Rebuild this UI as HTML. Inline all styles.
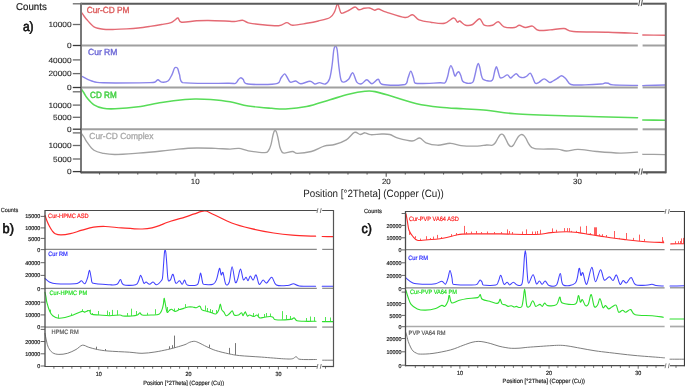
<!DOCTYPE html>
<html><head><meta charset="utf-8"><title>XRD patterns</title>
<style>
html,body{margin:0;padding:0;background:#fff;}
body{width:685px;height:386px;overflow:hidden;}
svg{display:block;font-family:"Liberation Sans",sans-serif;text-rendering:geometricPrecision;filter:blur(0.4px);}
</style></head>
<body>
<svg width="685" height="386" viewBox="0 0 685 386">
<rect width="685" height="386" fill="#fff"/>
<path d="M81.2 12.1 C81.67 12.75 83.03 14.72 84 16 C84.97 17.28 85.33 18 87 19.8 C88.67 21.6 91.28 25.23 94 26.8 C96.72 28.37 99.8 28.77 103.3 29.2 C106.8 29.63 111.1 29.45 115 29.4 C118.9 29.35 122.82 29.13 126.7 28.9 C130.58 28.67 134.42 28.42 138.3 28 C142.18 27.58 146.12 26.98 150 26.4 C153.88 25.82 158.1 25.13 161.6 24.5 C165.1 23.87 168.77 23.35 171 22.6 C173.23 21.85 173.83 20.77 175 20 C176.17 19.23 176.92 17.63 178 18 C179.08 18.37 178.4 21.73 181.5 22.2 C184.6 22.67 192.13 21.08 196.6 20.8 C201.07 20.52 203.57 20.47 208.3 20.5 C213.03 20.53 220.67 20.83 225 21 C229.33 21.17 231.38 21.62 234.3 21.5 C237.22 21.38 240.17 20.07 242.5 20.3 C244.83 20.53 245.38 22.2 248.3 22.9 C251.22 23.6 254.93 24.03 260 24.5 C265.07 24.97 274.23 26.02 278.7 25.7 C283.17 25.38 284.48 22.68 286.8 22.6 C289.12 22.52 289.3 25.08 292.6 25.2 C295.9 25.32 302.32 24 306.6 23.3 C310.88 22.6 314.4 21.97 318.3 21 C322.2 20.03 327.28 19.05 330 17.5 C332.72 15.95 333.37 13.98 334.6 11.7 C335.83 9.42 336.62 4.38 337.4 3.8 C338.18 3.22 338.6 6.62 339.3 8.2 C340 9.78 340.05 12.92 341.6 13.3 C343.15 13.68 346.37 11.55 348.6 10.5 C350.83 9.45 353.27 7.12 355 7 C356.73 6.88 357.5 9.58 359 9.8 C360.5 10.02 362.23 8.6 364 8.3 C365.77 8 367.82 7.68 369.6 8 C371.38 8.32 373.23 10.03 374.7 10.2 C376.17 10.37 376.47 8.68 378.4 9 C380.33 9.32 381.87 10.68 386.3 12.1 C390.73 13.52 400.63 17.07 405 17.5 C409.37 17.93 410.17 14.32 412.5 14.7 C414.83 15.08 415.98 18.55 419 19.8 C422.02 21.05 426.33 21.62 430.6 22.2 C434.87 22.78 440.78 24 444.6 23.3 C448.42 22.6 451.35 18.18 453.5 18 C455.65 17.82 456.45 21.7 457.5 22.2 C458.55 22.7 458.45 20.5 459.8 21 C461.15 21.5 463.47 24.62 465.6 25.2 C467.73 25.78 470.27 25.58 472.6 24.5 C474.93 23.42 477.65 18.58 479.6 18.7 C481.55 18.82 482.15 24.12 484.3 25.2 C486.45 26.28 490.17 25.78 492.5 25.2 C494.83 24.62 496.38 21.43 498.3 21.7 C500.22 21.97 501.28 25.83 504 26.8 C506.72 27.77 512.07 27.77 514.6 27.5 C517.13 27.23 517.38 25.2 519.2 25.2 C521.02 25.2 523.28 27.35 525.5 27.5 C527.72 27.65 530.37 25.63 532.5 26.1 C534.63 26.57 535.38 29.67 538.3 30.3 C541.22 30.93 545.72 30.2 550 29.9 C554.28 29.6 560.12 28.23 564 28.5 C567.88 28.77 565.92 30.88 573.3 31.5 C580.68 32.12 597.6 31.88 608.3 32.2 C619 32.52 632.63 33.2 637.5 33.4" fill="none" stroke="#e46a74" stroke-width="1.4" stroke-linejoin="round" stroke-linecap="round"/>
<path d="M642.8 35 C646.5 35.03 661.3 35.17 665 35.2" fill="none" stroke="#e46a74" stroke-width="1.4" stroke-linejoin="round" stroke-linecap="round"/>
<path d="M81 75.8 C82.78 76.67 88.03 79.83 91.7 81 C95.37 82.17 93.28 82.53 103 82.8 C112.72 83.07 141.33 82.73 150 82.6 C155 82.47 153.67 82.47 155 82 C156.33 81.53 156.9 79.78 158 79.8 C159.1 79.82 159.93 81.9 161.6 82.1 C163.27 82.3 166.27 82.25 168 81 C169.73 79.75 170.95 76.68 172 74.6 C173.05 72.52 173.63 69.7 174.3 68.5 C174.97 67.3 175.43 67.4 176 67.4 C176.57 67.4 177.12 67.3 177.7 68.5 C178.28 69.7 178.68 72.25 179.5 74.6 C180.32 76.95 179.5 81.15 182.6 82.6 C190.85 84.05 220.18 83.18 229 83.3 C235.5 83.42 233.92 83.93 235.5 83.3 C237.08 82.67 237.6 80.43 238.5 79.5 C239.4 78.57 240.1 77.7 240.9 77.7 C241.7 77.7 242.45 78.53 243.3 79.5 C244.15 80.47 243.3 82.67 246 83.5 C249.17 84.33 257.05 84.53 262.3 84.5 C267.55 84.47 274.38 84.38 277.5 83.3 C280.62 82.22 279.83 79.57 281 78 C282.17 76.43 283.5 74.07 284.5 73.9 C285.5 73.73 286.03 75.63 287 77 C287.97 78.37 288.85 81.43 290.3 82.1 C291.75 82.77 293.95 80.72 295.7 81 C297.45 81.28 298.42 83.77 300.8 83.8 C303.18 83.83 307.67 81.17 310 81.2 C312.33 81.23 313.22 83.77 314.8 84 C316.38 84.23 317.75 82.6 319.5 82.6 C321.25 82.6 323.63 84.6 325.3 84 C326.97 83.4 328.38 82 329.5 79 C330.62 76 331.28 70.83 332 66 C332.72 61.17 333.22 53.28 333.8 50 C334.38 46.72 334.93 46.3 335.5 46.3 C336.07 46.3 336.65 46.72 337.2 50 C337.75 53.28 338.17 61 338.8 66 C339.43 71 340.13 77.32 341 80 C341.87 82.68 342.73 82.22 344 82.1 C345.27 81.98 347.13 80.85 348.6 79.3 C350.07 77.75 351.43 72.33 352.8 72.8 C354.17 73.27 355.35 80.27 356.8 82.1 C358.25 83.93 359.83 84.18 361.5 83.8 C363.17 83.42 365.05 79.8 366.8 79.8 C368.55 79.8 370.1 83.88 372 83.8 C373.9 83.72 376.4 79.18 378.2 79.3 C380 79.42 378.33 83.63 382.8 84.5 C387.27 85.37 400.8 85.58 405 84.5 C408 83.42 407.03 80.23 408 78 C408.97 75.77 409.88 71.1 410.8 71.1 C411.72 71.1 412.72 75.97 413.5 78 C414.28 80.03 413.5 82.5 415.5 83.3 C419.92 84.1 435.08 82.88 440 82.8 C444.92 82.72 443.75 83.77 445 82.8 C446.25 81.83 446.78 79.3 447.5 77 C448.22 74.7 448.73 70.9 449.3 69 C449.87 67.1 450.33 65.6 450.9 65.6 C451.47 65.6 452.03 67.27 452.7 69 C453.37 70.73 454.18 75.33 454.9 76 C455.62 76.67 456.33 73.68 457 73 C457.67 72.32 458.27 71.48 458.9 71.9 C459.53 72.32 460.2 73.98 460.8 75.5 C461.4 77.02 461.63 79.75 462.5 81 C463.37 82.25 464.75 82.62 466 83 C467.25 83.38 468.83 83.47 470 83.3 C471.17 83.13 472.17 83.38 473 82 C473.83 80.62 474.37 77.5 475 75 C475.63 72.5 476.27 68.92 476.8 67 C477.33 65.08 477.72 63.5 478.2 63.5 C478.68 63.5 479.18 65.08 479.7 67 C480.22 68.92 480.75 72.95 481.3 75 C481.85 77.05 482.05 78.35 483 79.3 C483.95 80.25 485.67 80.42 487 80.7 C488.33 80.98 490 81.28 491 81 C492 80.72 492.37 80.67 493 79 C493.63 77.33 494.23 73.05 494.8 71 C495.37 68.95 495.87 66.7 496.4 66.7 C496.93 66.7 497.4 69.2 498 71 C498.6 72.8 499.17 76.45 500 77.5 C500.83 78.55 501.77 77.73 503 77.3 C504.23 76.87 506.15 74.78 507.4 74.9 C508.65 75.02 509.57 77.82 510.5 78 C511.43 78.18 512.05 76.72 513 76 C513.95 75.28 515.2 73.62 516.2 73.7 C517.2 73.78 518.13 75.87 519 76.5 C519.87 77.13 520.57 77.33 521.4 77.5 C522.23 77.67 523.07 77.75 524 77.5 C524.93 77.25 525.97 76.73 527 76 C528.03 75.27 529.28 72.93 530.2 73.1 C531.12 73.27 531.63 75.3 532.5 77 C533.37 78.7 534.32 82.42 535.4 83.3 C536.48 84.18 537.53 83.03 539 82.3 C540.47 81.57 542.45 78.88 544.2 78.9 C545.95 78.92 548.03 82.05 549.5 82.4 C550.97 82.75 551.7 81.67 553 81 C554.3 80.33 555.85 79.27 557.3 78.4 C558.75 77.53 560.25 75.7 561.7 75.8 C563.15 75.9 564.45 77.55 566 79 C567.55 80.45 567.83 83.52 571 84.5 C574.17 85.48 580 84.98 585 84.9 C590 84.82 597.67 84.32 601 84 C604.33 83.68 603.78 83.12 605 83 C606.22 82.88 606.97 82.98 608.3 83.3 C609.63 83.62 608.3 84.55 613 84.9 C617.87 85.25 633.42 85.32 637.5 85.4" fill="none" stroke="#8a84ea" stroke-width="1.4" stroke-linejoin="round" stroke-linecap="round"/>
<path d="M642.8 85.6 C643.33 85.57 642.8 85.5 646 85.4 C649.7 85.3 661.83 85.07 665 85" fill="none" stroke="#8a84ea" stroke-width="1.4" stroke-linejoin="round" stroke-linecap="round"/>
<path d="M81 88.5 C81.5 89.25 83 91.45 84 93 C85 94.55 85.33 95.83 87 97.8 C88.67 99.77 91.28 103.05 94 104.8 C96.72 106.55 99.8 107.63 103.3 108.3 C106.8 108.97 109.17 109.07 115 108.8 C120.83 108.53 130.53 107.75 138.3 106.7 C146.07 105.65 153.82 103.7 161.6 102.5 C169.38 101.3 179.17 100.08 185 99.5 C190.83 98.92 192.33 99 196.6 99 C200.87 99 205.03 99.03 210.6 99.5 C216.17 99.97 223.72 100.72 230 101.8 C236.28 102.88 241.35 104.92 248.3 106 C255.25 107.08 265.48 107.8 271.7 108.3 C277.92 108.8 279.78 109.3 285.6 109 C291.42 108.7 299.2 108.05 306.6 106.5 C314 104.95 323 101.73 330 99.7 C337 97.67 342.77 95.7 348.6 94.3 C354.43 92.9 360.6 91.75 365 91.3 C369.4 90.85 370.28 90.7 375 91.6 C379.72 92.5 386.35 94.68 393.3 96.7 C400.25 98.72 408.92 101.95 416.7 103.7 C424.48 105.45 432.23 106.35 440 107.2 C447.77 108.05 455.53 108.3 463.3 108.8 C471.07 109.3 477.98 109.38 486.6 110.2 C495.22 111.02 500.55 112.73 515 113.7 C529.45 114.67 552.88 115.33 573.3 116 C593.72 116.67 626.8 117.42 637.5 117.7" fill="none" stroke="#58dc58" stroke-width="1.6" stroke-linejoin="round" stroke-linecap="round"/>
<path d="M642.8 120 C646.5 120.05 661.3 120.25 665 120.3" fill="none" stroke="#58dc58" stroke-width="1.6" stroke-linejoin="round" stroke-linecap="round"/>
<path d="M81 132.8 C81.5 133.5 83 135.45 84 137 C85 138.55 85.33 139.88 87 142.1 C88.67 144.32 91.28 148.43 94 150.3 C96.72 152.17 99.8 152.6 103.3 153.3 C106.8 154 109.17 154.53 115 154.5 C120.83 154.47 130.53 153.68 138.3 153.1 C146.07 152.52 154.98 151.67 161.6 151 C168.22 150.33 172.17 149.6 178 149.1 C183.83 148.6 190.38 148.12 196.6 148 C202.82 147.88 209.73 148.22 215.3 148.4 C220.87 148.58 226.05 149.1 230 149.1 C233.95 149.1 235.95 148.12 239 148.4 C242.05 148.68 244.02 150.1 248.3 150.8 C252.58 151.5 261.33 152.65 264.7 152.6 C268.07 152.55 267.45 151.83 268.5 150.5 C269.55 149.17 270.25 147.18 271 144.6 C271.75 142.02 272.42 137.3 273 135 C273.58 132.7 273.95 131.35 274.5 130.8 C275.05 130.25 275.72 130.5 276.3 131.7 C276.88 132.9 277.42 135.45 278 138 C278.58 140.55 279.13 144.67 279.8 147 C280.47 149.33 281.22 150.98 282 152 C282.78 153.02 282.73 153.18 284.5 153.1 C286.27 153.02 290.47 151.47 292.6 151.5 C294.73 151.53 294.18 153.3 297.3 153.3 C300.42 153.3 306.83 152.7 311.3 151.5 C315.77 150.3 320.22 147.27 324.1 146.1 C327.98 144.93 330.9 145.55 334.6 144.5 C338.3 143.45 342.98 141.82 346.3 139.8 C349.62 137.78 352.17 133.28 354.5 132.4 C356.83 131.52 358.55 134.43 360.3 134.5 C362.05 134.57 363.25 132.77 365 132.8 C366.75 132.83 368.02 134.5 370.8 134.7 C373.58 134.9 378.53 134.03 381.7 134 C384.87 133.97 387.08 133.8 389.8 134.5 C392.52 135.2 394.3 137.12 398 138.2 C401.7 139.28 408.38 141.03 412 141 C415.62 140.97 417.37 137.7 419.7 138 C422.03 138.3 423.02 141.6 426 142.8 C428.98 144 433.52 145.12 437.6 145.2 C441.68 145.28 446.6 143.23 450.5 143.3 C454.4 143.37 456.53 145.13 461 145.6 C465.47 146.07 473.03 146.2 477.3 146.1 C481.57 146 484.07 145.15 486.6 145 C489.13 144.85 491.02 145.62 492.5 145.2 C493.98 144.78 494.58 143.7 495.5 142.5 C496.42 141.3 497.22 139.28 498 138 C498.78 136.72 499.53 135.43 500.2 134.8 C500.87 134.17 501.4 134.08 502 134.2 C502.6 134.32 503.13 134.62 503.8 135.5 C504.47 136.38 505.22 138 506 139.5 C506.78 141 507.67 143.32 508.5 144.5 C509.33 145.68 510.17 146.52 511 146.6 C511.83 146.68 512.67 146.02 513.5 145 C514.33 143.98 515.17 141.92 516 140.5 C516.83 139.08 517.67 137.48 518.5 136.5 C519.33 135.52 520.17 134.82 521 134.6 C521.83 134.38 522.67 134.55 523.5 135.2 C524.33 135.85 525.08 137 526 138.5 C526.92 140 527.53 142.5 529 144.2 C530.47 145.9 530.13 147.88 534.8 148.7 C539.47 149.52 551.75 148.72 557 149.1 C562.25 149.48 562.8 150.95 566.3 151 C569.8 151.05 572.95 149.32 578 149.4 C583.05 149.48 589.6 150.88 596.6 151.5 C603.6 152.12 613.18 152.98 620 153.1 C626.82 153.22 634.58 152.35 637.5 152.2" fill="none" stroke="#a2a2a2" stroke-width="1.35" stroke-linejoin="round" stroke-linecap="round"/>
<path d="M642.8 154.3 C646.5 154.35 661.3 154.55 665 154.6" fill="none" stroke="#a2a2a2" stroke-width="1.35" stroke-linejoin="round" stroke-linecap="round"/>
<line x1="81" y1="45.5" x2="637.8" y2="45.5" stroke="#a0a0a0" stroke-width="2.0"/>
<line x1="642.6" y1="45.5" x2="665.8" y2="45.5" stroke="#a0a0a0" stroke-width="2.0"/>
<line x1="81" y1="87.4" x2="637.8" y2="87.4" stroke="#a0a0a0" stroke-width="2.0"/>
<line x1="642.6" y1="87.4" x2="665.8" y2="87.4" stroke="#a0a0a0" stroke-width="2.0"/>
<line x1="81" y1="129.3" x2="637.8" y2="129.3" stroke="#a0a0a0" stroke-width="2.0"/>
<line x1="642.6" y1="129.3" x2="665.8" y2="129.3" stroke="#a0a0a0" stroke-width="2.0"/>
<line x1="81" y1="3.7" x2="637.8" y2="3.7" stroke="#5a5a5a" stroke-width="2.0"/>
<line x1="642.6" y1="3.7" x2="665.8" y2="3.7" stroke="#5a5a5a" stroke-width="2.0"/>
<line x1="81" y1="2.7" x2="81" y2="173.3" stroke="#787878" stroke-width="2.0"/>
<line x1="665.8" y1="2.7" x2="665.8" y2="173.3" stroke="#6a6a6a" stroke-width="2.0"/>
<line x1="81" y1="172.3" x2="637.8" y2="172.3" stroke="#555" stroke-width="2.2"/>
<line x1="642.6" y1="172.3" x2="665.8" y2="172.3" stroke="#555" stroke-width="2.2"/>
<path d="M638.6 6.1 L639.8 -0.1 M641.2 6.1 L642.4 -0.1 " stroke="#444" stroke-width="0.9" fill="none"/>
<path d="M638.6 174.7 L639.8 168.5 M641.2 174.7 L642.4 168.5 " stroke="#444" stroke-width="0.9" fill="none"/>
<line x1="72.8" y1="3.8" x2="81" y2="3.8" stroke="#6a6a6a" stroke-width="1.3"/>
<line x1="72.8" y1="24.5" x2="81" y2="24.5" stroke="#6a6a6a" stroke-width="1.3"/>
<text x="48.5" y="27" font-size="7.6" fill="#2a2a2a" font-weight="normal" stroke="#2a2a2a" stroke-width="0.12" textLength="23.1" lengthAdjust="spacingAndGlyphs">10000</text>
<line x1="72.8" y1="45.5" x2="81" y2="45.5" stroke="#3a3a3a" stroke-width="1.3"/>
<text x="66.98" y="48" font-size="7.6" fill="#2a2a2a" font-weight="normal" stroke="#2a2a2a" stroke-width="0.12" textLength="4.62" lengthAdjust="spacingAndGlyphs">0</text>
<line x1="72.8" y1="59.9" x2="81" y2="59.9" stroke="#6a6a6a" stroke-width="1.3"/>
<text x="48.5" y="63" font-size="7.6" fill="#2a2a2a" font-weight="normal" stroke="#2a2a2a" stroke-width="0.12" textLength="23.1" lengthAdjust="spacingAndGlyphs">40000</text>
<line x1="72.8" y1="73.6" x2="81" y2="73.6" stroke="#6a6a6a" stroke-width="1.3"/>
<text x="48.5" y="76" font-size="7.6" fill="#2a2a2a" font-weight="normal" stroke="#2a2a2a" stroke-width="0.12" textLength="23.1" lengthAdjust="spacingAndGlyphs">20000</text>
<line x1="72.8" y1="87.5" x2="81" y2="87.5" stroke="#3a3a3a" stroke-width="1.3"/>
<text x="66.98" y="90" font-size="7.6" fill="#2a2a2a" font-weight="normal" stroke="#2a2a2a" stroke-width="0.12" textLength="4.62" lengthAdjust="spacingAndGlyphs">0</text>
<line x1="72.8" y1="91.8" x2="81" y2="91.8" stroke="#6a6a6a" stroke-width="1.3"/>
<line x1="72.8" y1="105.1" x2="81" y2="105.1" stroke="#6a6a6a" stroke-width="1.3"/>
<text x="48.5" y="108" font-size="7.6" fill="#2a2a2a" font-weight="normal" stroke="#2a2a2a" stroke-width="0.12" textLength="23.1" lengthAdjust="spacingAndGlyphs">10000</text>
<line x1="72.8" y1="117.3" x2="81" y2="117.3" stroke="#6a6a6a" stroke-width="1.3"/>
<text x="53.12" y="120" font-size="7.6" fill="#2a2a2a" font-weight="normal" stroke="#2a2a2a" stroke-width="0.12" textLength="18.48" lengthAdjust="spacingAndGlyphs">5000</text>
<line x1="72.8" y1="129.2" x2="81" y2="129.2" stroke="#3a3a3a" stroke-width="1.3"/>
<text x="66.98" y="132" font-size="7.6" fill="#2a2a2a" font-weight="normal" stroke="#2a2a2a" stroke-width="0.12" textLength="4.62" lengthAdjust="spacingAndGlyphs">0</text>
<line x1="72.8" y1="132.9" x2="81" y2="132.9" stroke="#6a6a6a" stroke-width="1.3"/>
<line x1="72.8" y1="145.5" x2="81" y2="145.5" stroke="#6a6a6a" stroke-width="1.3"/>
<text x="48.5" y="148" font-size="7.6" fill="#2a2a2a" font-weight="normal" stroke="#2a2a2a" stroke-width="0.12" textLength="23.1" lengthAdjust="spacingAndGlyphs">10000</text>
<line x1="72.8" y1="159" x2="81" y2="159" stroke="#6a6a6a" stroke-width="1.3"/>
<text x="53.12" y="162" font-size="7.6" fill="#2a2a2a" font-weight="normal" stroke="#2a2a2a" stroke-width="0.12" textLength="18.48" lengthAdjust="spacingAndGlyphs">5000</text>
<line x1="72.8" y1="171.6" x2="81" y2="171.6" stroke="#3a3a3a" stroke-width="1.3"/>
<text x="66.98" y="174" font-size="7.6" fill="#2a2a2a" font-weight="normal" stroke="#2a2a2a" stroke-width="0.12" textLength="4.62" lengthAdjust="spacingAndGlyphs">0</text>
<line x1="99.55" y1="172.3" x2="99.55" y2="174.5" stroke="#555" stroke-width="1.1"/>
<line x1="118.66" y1="172.3" x2="118.66" y2="174.5" stroke="#555" stroke-width="1.1"/>
<line x1="137.77" y1="172.3" x2="137.77" y2="174.5" stroke="#555" stroke-width="1.1"/>
<line x1="156.88" y1="172.3" x2="156.88" y2="174.5" stroke="#555" stroke-width="1.1"/>
<line x1="175.99" y1="172.3" x2="175.99" y2="174.5" stroke="#555" stroke-width="1.1"/>
<line x1="195.1" y1="172.3" x2="195.1" y2="176.7" stroke="#555" stroke-width="1.1"/>
<line x1="214.21" y1="172.3" x2="214.21" y2="174.5" stroke="#555" stroke-width="1.1"/>
<line x1="233.32" y1="172.3" x2="233.32" y2="174.5" stroke="#555" stroke-width="1.1"/>
<line x1="252.43" y1="172.3" x2="252.43" y2="174.5" stroke="#555" stroke-width="1.1"/>
<line x1="271.54" y1="172.3" x2="271.54" y2="174.5" stroke="#555" stroke-width="1.1"/>
<line x1="290.65" y1="172.3" x2="290.65" y2="174.5" stroke="#555" stroke-width="1.1"/>
<line x1="309.76" y1="172.3" x2="309.76" y2="174.5" stroke="#555" stroke-width="1.1"/>
<line x1="328.87" y1="172.3" x2="328.87" y2="174.5" stroke="#555" stroke-width="1.1"/>
<line x1="347.98" y1="172.3" x2="347.98" y2="174.5" stroke="#555" stroke-width="1.1"/>
<line x1="367.09" y1="172.3" x2="367.09" y2="174.5" stroke="#555" stroke-width="1.1"/>
<line x1="386.2" y1="172.3" x2="386.2" y2="176.7" stroke="#555" stroke-width="1.1"/>
<line x1="405.31" y1="172.3" x2="405.31" y2="174.5" stroke="#555" stroke-width="1.1"/>
<line x1="424.42" y1="172.3" x2="424.42" y2="174.5" stroke="#555" stroke-width="1.1"/>
<line x1="443.53" y1="172.3" x2="443.53" y2="174.5" stroke="#555" stroke-width="1.1"/>
<line x1="462.64" y1="172.3" x2="462.64" y2="174.5" stroke="#555" stroke-width="1.1"/>
<line x1="481.75" y1="172.3" x2="481.75" y2="174.5" stroke="#555" stroke-width="1.1"/>
<line x1="500.86" y1="172.3" x2="500.86" y2="174.5" stroke="#555" stroke-width="1.1"/>
<line x1="519.97" y1="172.3" x2="519.97" y2="174.5" stroke="#555" stroke-width="1.1"/>
<line x1="539.08" y1="172.3" x2="539.08" y2="174.5" stroke="#555" stroke-width="1.1"/>
<line x1="558.19" y1="172.3" x2="558.19" y2="174.5" stroke="#555" stroke-width="1.1"/>
<line x1="577.3" y1="172.3" x2="577.3" y2="176.7" stroke="#555" stroke-width="1.1"/>
<line x1="596.41" y1="172.3" x2="596.41" y2="174.5" stroke="#555" stroke-width="1.1"/>
<line x1="615.52" y1="172.3" x2="615.52" y2="174.5" stroke="#555" stroke-width="1.1"/>
<line x1="634.63" y1="172.3" x2="634.63" y2="174.5" stroke="#555" stroke-width="1.1"/>
<line x1="646.9" y1="172.3" x2="646.9" y2="174.5" stroke="#555" stroke-width="1.1"/>
<text x="190.8" y="184" font-size="7.6" fill="#2a2a2a" font-weight="normal" stroke="#2a2a2a" stroke-width="0.12" textLength="8.8" lengthAdjust="spacingAndGlyphs">10</text>
<text x="381.9" y="184" font-size="7.6" fill="#2a2a2a" font-weight="normal" stroke="#2a2a2a" stroke-width="0.12" textLength="8.8" lengthAdjust="spacingAndGlyphs">20</text>
<text x="573" y="184" font-size="7.6" fill="#2a2a2a" font-weight="normal" stroke="#2a2a2a" stroke-width="0.12" textLength="8.8" lengthAdjust="spacingAndGlyphs">30</text>
<text x="303.2" y="197" font-size="10.6" fill="#222" font-weight="normal" textLength="140.6" lengthAdjust="spacingAndGlyphs">Position [°2Theta] (Copper (Cu))</text>
<text x="16.1" y="10" font-size="10" fill="#222" font-weight="normal" stroke="#222" stroke-width="0.2" textLength="30.7" lengthAdjust="spacingAndGlyphs">Counts</text>
<text x="22.9" y="31" font-size="13.3" fill="#111" font-weight="normal" stroke="#111" stroke-width="0.65" textLength="10.7" lengthAdjust="spacingAndGlyphs">a)</text>
<text x="86.7" y="13" font-size="8.9" fill="#dc5a5a" font-weight="normal" stroke="#dc5a5a" stroke-width="0.35" textLength="42.8" lengthAdjust="spacingAndGlyphs">Cur-CD PM</text>
<text x="88" y="55" font-size="8.9" fill="#6b66d6" font-weight="normal" stroke="#6b66d6" stroke-width="0.35" textLength="29.4" lengthAdjust="spacingAndGlyphs">Cur RM</text>
<text x="90.1" y="98" font-size="9" fill="#44d044" font-weight="normal" stroke="#44d044" stroke-width="0.45" textLength="26.6" lengthAdjust="spacingAndGlyphs">CD RM</text>
<text x="89.3" y="139" font-size="8.9" fill="#a8a8a8" font-weight="normal" stroke="#a8a8a8" stroke-width="0.3" textLength="64.1" lengthAdjust="spacingAndGlyphs">Cur-CD Complex</text>
<path d="M45.1 215.5 C45.42 216.42 46.3 219.25 47 221 C47.7 222.75 48.47 224.42 49.3 226 C50.13 227.58 51.02 229.22 52 230.5 C52.98 231.78 53.7 232.97 55.2 233.7 C56.7 234.43 58.48 234.9 61 234.9 C63.52 234.9 66.8 234.48 70.3 233.7 C73.8 232.92 78.12 231.28 82 230.2 C85.88 229.12 89.72 227.82 93.6 227.2 C97.48 226.58 100.63 226.38 105.3 226.5 C109.97 226.62 115.77 227.48 121.6 227.9 C127.43 228.32 135.23 229 140.3 229 C145.37 229 146.95 229.18 152 227.9 C157.05 226.62 165.1 223.1 170.6 221.3 C176.1 219.5 181.05 218.33 185 217.1 C188.95 215.87 191 214.93 194.3 213.9 C197.6 212.87 201.68 210.85 204.8 210.9 C207.92 210.95 208.52 212.18 213 214.2 C217.48 216.22 225.48 220.63 231.7 223 C237.92 225.37 243.32 226.73 250.3 228.4 C257.28 230.07 266.6 231.87 273.6 233 C280.6 234.13 285.3 234.67 292.3 235.2 C299.3 235.73 311.72 236.03 315.6 236.2" fill="none" stroke="#ff2a2a" stroke-width="1.2" stroke-linejoin="round" stroke-linecap="round"/>
<path d="M322.2 236.5 C324 236.52 331.2 236.58 333 236.6" fill="none" stroke="#ff2a2a" stroke-width="1.2" stroke-linejoin="round" stroke-linecap="round"/>
<path d="M45 278.5 C45.72 279.08 47.42 281.12 49.3 282 C51.18 282.88 52.02 283.5 56.3 283.8 C60.58 284.1 71.22 284.02 75 283.8 C78.78 283.58 77.92 283 79 282.5 C80.08 282 80.53 280.58 81.5 280.8 C82.47 281.02 83.8 284.27 84.8 283.8 C85.8 283.33 86.72 280.25 87.5 278 C88.28 275.75 88.88 270.3 89.5 270.3 C90.12 270.3 90.7 275.87 91.2 278 C91.7 280.13 91.2 281.97 92.5 283.1 C95.63 284.23 105.92 284.6 110 284.8 C114.08 285 115.25 285.17 117 284.3 C118.75 283.43 119.42 279.52 120.5 279.6 C121.58 279.68 120.98 283.93 123.5 284.8 C126.02 285.67 133.1 285.43 135.6 284.8 C138.1 284.17 137.63 282.57 138.5 281 C139.37 279.43 139.92 275.05 140.8 275.4 C141.68 275.75 142.92 282 143.8 283.1 C144.68 284.2 145.13 281.8 146.1 282 C147.07 282.2 148.43 284.3 149.6 284.3 C150.77 284.3 151.93 281.92 153.1 282 C154.27 282.08 155.2 285.05 156.6 284.8 C158 284.55 160.5 281.8 161.5 280.5 C162.5 279.2 162.25 279.75 162.6 277 C162.95 274.25 163.3 268 163.6 264 C163.9 260 164.15 255.38 164.4 253 C164.65 250.62 164.85 249.7 165.1 249.7 C165.35 249.7 165.62 250.62 165.9 253 C166.18 255.38 166.5 260 166.8 264 C167.1 268 167.42 274.2 167.7 277 C167.98 279.8 168.02 280.37 168.5 280.8 C168.98 281.23 169.85 280.68 170.6 279.6 C171.35 278.52 172.13 273.72 173 274.3 C173.87 274.88 174.72 282.02 175.8 283.1 C176.88 284.18 178.42 280.6 179.5 280.8 C180.58 281 181.45 284.42 182.3 284.3 C183.15 284.18 183.77 279.98 184.6 280.1 C185.43 280.22 185.28 284.18 187.3 285 C189.32 285.82 194.78 285.67 196.7 285 C198.62 284.33 198.15 282.98 198.8 281 C199.45 279.02 200.02 273.1 200.6 273.1 C201.18 273.1 201.78 279.13 202.3 281 C202.82 282.87 202.3 283.75 203.7 284.3 C205.48 284.85 210.87 285.08 213 284.3 C215.13 283.52 215.42 282.25 216.5 279.6 C217.58 276.95 218.72 269.17 219.5 268.4 C220.28 267.63 220.62 274.3 221.2 275 C221.78 275.7 222.23 271.05 223 272.6 C223.77 274.15 224.75 282.73 225.8 284.3 C226.85 285.87 228.25 284.92 229.3 282 C230.35 279.08 231.12 266.8 232.1 266.8 C233.08 266.8 234.3 279.87 235.2 282 C236.1 284.13 236.62 281.75 237.5 279.6 C238.38 277.45 239.53 269.1 240.5 269.1 C241.47 269.1 242.37 278.23 243.3 279.6 C244.23 280.97 245.32 277.1 246.1 277.3 C246.88 277.5 247.3 281 248 280.8 C248.7 280.6 249.45 276.22 250.3 276.1 C251.15 275.98 252.13 280.28 253.1 280.1 C254.07 279.92 255.08 274.3 256.1 275 C257.12 275.7 258.03 283.45 259.2 284.3 C260.37 285.15 261.87 280.3 263.1 280.1 C264.33 279.9 265.15 283.57 266.6 283.1 C268.05 282.63 270.17 276.98 271.8 277.3 C273.43 277.62 273.77 283.63 276.4 285 C279.03 286.37 284.75 285.7 287.6 285.5 C290.45 285.3 291.55 283.73 293.5 283.8 C295.45 283.87 295.62 285.5 299.3 285.9 C302.98 286.3 312.88 286.15 315.6 286.2" fill="none" stroke="#4040ff" stroke-width="1.05" stroke-linejoin="round" stroke-linecap="round"/>
<path d="M322.2 286.2 C324 286.2 331.2 286.2 333 286.2" fill="none" stroke="#4040ff" stroke-width="1.05" stroke-linejoin="round" stroke-linecap="round"/>
<path d="M45 292.4 C45.17 293.17 45.68 295.3 46 297 C46.32 298.7 46.27 300.2 46.9 302.6 C47.53 305 48.82 309.22 49.8 311.4 C50.78 313.58 51.33 314.57 52.8 315.7 C54.27 316.83 56.42 317.95 58.6 318.2 C60.78 318.45 63.47 317.73 65.9 317.2 C68.33 316.67 70.52 315.97 73.2 315 C75.88 314.03 80.05 311.88 82 311.4 C83.95 310.92 83.68 312.23 84.9 312.1 C86.12 311.97 88.22 310.23 89.3 310.6 C90.38 310.97 89.7 313.57 91.4 314.3 C93.1 315.03 96.45 314.77 99.5 315 C102.55 315.23 106.3 315.7 109.7 315.7 C113.1 315.7 117.72 314.95 119.9 315 C122.08 315.05 120.85 315.83 122.8 316 C124.75 316.17 129.17 316.17 131.6 316 C134.03 315.83 136 315.53 137.4 315 C138.8 314.47 139.2 312.8 140 312.8 C140.8 312.8 140.25 314.63 142.2 315 C144.15 315.37 148.9 315.12 151.7 315 C154.5 314.88 157.3 315.15 159 314.3 C160.7 313.45 161.17 311.6 161.9 309.9 C162.63 308.2 163.03 306.03 163.4 304.1 C163.77 302.17 163.82 298.55 164.1 298.3 C164.38 298.05 164.62 300.3 165.1 302.6 C165.58 304.9 166.32 310.77 167 312.1 C167.68 313.43 168.47 311.08 169.2 310.6 C169.93 310.12 170.43 309.07 171.4 309.2 C172.37 309.33 173.67 311.33 175 311.4 C176.33 311.47 177.93 310.1 179.4 309.6 C180.87 309.1 182.33 308.83 183.8 308.4 C185.27 307.97 186.73 307.23 188.2 307 C189.67 306.77 191.27 306.88 192.6 307 C193.93 307.12 194.98 307.83 196.2 307.7 C197.42 307.57 198.93 305.83 199.9 306.2 C200.87 306.57 200.78 309.03 202 309.9 C203.22 310.77 205.87 311.03 207.2 311.4 C208.53 311.77 208.55 311.67 210 312.1 C211.45 312.53 214.43 314.37 215.9 314 C217.37 313.63 218.07 311.57 218.8 309.9 C219.53 308.23 219.8 304 220.3 304 C220.8 304 221.2 308.55 221.8 309.9 C222.4 311.25 223.18 311.13 223.9 312.1 C224.62 313.07 225.23 315.38 226.1 315.7 C226.97 316.02 228.07 314.8 229.1 314 C230.13 313.2 231.45 310.73 232.3 310.9 C233.15 311.07 233.15 314.32 234.2 315 C235.25 315.68 237.37 315.37 238.6 315 C239.83 314.63 240.87 312.68 241.6 312.8 C242.33 312.92 242.4 315.82 243 315.7 C243.6 315.58 244.47 312.05 245.2 312.1 C245.93 312.15 246.67 315.52 247.4 316 C248.13 316.48 248.5 314.92 249.6 315 C250.7 315.08 252.78 316.5 254 316.5 C255.22 316.5 255.93 314.77 256.9 315 C257.87 315.23 258.58 317.53 259.8 317.9 C261.02 318.27 262.5 317.43 264.2 317.2 C265.9 316.97 268.53 316.5 270 316.5 C271.47 316.5 272.02 316.65 273 317.2 C273.98 317.75 273 319.43 275.9 319.8 C278.82 320.17 287.47 319.72 290.5 319.4 C293.53 319.08 293.02 317.67 294.1 317.9 C295.18 318.13 295.42 320.23 297 320.8 C298.58 321.37 300.43 321.22 303.6 321.3 C306.77 321.38 313.93 321.3 316 321.3" fill="none" stroke="#2ee02e" stroke-width="1.1" stroke-linejoin="round" stroke-linecap="round"/>
<path d="M322.4 321.6 C324.17 321.6 331.23 321.6 333 321.6" fill="none" stroke="#2ee02e" stroke-width="1.1" stroke-linejoin="round" stroke-linecap="round"/>
<path d="M50.5 312.55 V309.6 M58.5 318.2 V314.3 M71.5 315.45 V313.5 M82.5 311.45 V309.2 M87.5 311.11 V310 M90.5 311.83 V309.6 M92.5 314.37 V313 M98.5 314.93 V311 M107.5 315.55 V310.6 M109.5 315.65 V312 M112.5 315.5 V309.9 M117.5 315.2 V310.2 M127.5 316 V313 M131.5 316 V308.7 M136.5 315.12 V311 M147.5 315 V312.8 M155.5 314.65 V309.2 M167.5 311.62 V307 M174.5 311.09 V308.5 M178.5 310.17 V308 M185.5 307.92 V304.1 M205.5 310.77 V305.5 M207.5 311.47 V308 M210.5 312.1 V309 M212.5 312.91 V310 M216.5 313.86 V310 M245.5 312.1 V311.4 M253.5 316.16 V313 M258.5 316.1 V313.5 M264.5 317.23 V314 M266.5 316.98 V313 M270.5 316.5 V313.5 M282.5 319.62 V311.1 M286.5 319.52 V315 M290.5 319.41 V316 M306.5 321.3 V318 M310.5 321.3 V316.5 M314.5 321.3 V317 M325.5 321.6 V317 M330.5 321.6 V317.5 " fill="none" stroke="#3ee43e" stroke-width="0.9"/>
<path d="M45 333.5 C45.25 334.75 45.95 338.7 46.5 341 C47.05 343.3 47.3 345.35 48.3 347.3 C49.3 349.25 50.73 351.52 52.5 352.7 C54.27 353.88 56.4 354.3 58.9 354.4 C61.4 354.5 64.65 354.12 67.5 353.3 C70.35 352.48 73.52 350.85 76 349.5 C78.48 348.15 80.27 345.57 82.4 345.2 C84.53 344.83 86.32 346.58 88.8 347.3 C91.28 348.02 94.1 348.88 97.3 349.5 C100.5 350.12 102.67 350.55 108 351 C113.33 351.45 123.63 351.82 129.3 352.2 C134.97 352.58 137.73 353.33 142 353.3 C146.27 353.27 150.62 352.63 154.9 352 C159.18 351.37 164.15 350.28 167.7 349.5 C171.25 348.72 173.32 348.12 176.2 347.3 C179.08 346.48 182.8 345.42 185 344.6 C187.2 343.78 187.93 342.95 189.4 342.4 C190.87 341.85 192.35 341.3 193.8 341.3 C195.25 341.3 195.92 341.48 198.1 342.4 C200.28 343.32 203.97 345.45 206.9 346.8 C209.83 348.15 212.05 349.33 215.7 350.5 C219.35 351.67 224.8 352.95 228.8 353.8 C232.8 354.65 234.23 355.05 239.7 355.6 C245.17 356.15 254.3 356.57 261.6 357.1 C268.9 357.63 278.38 358.52 283.5 358.8 C288.62 359.08 290.18 359.15 292.3 358.8 C294.42 358.45 294.92 356.62 296.2 356.7 C297.48 356.78 296.63 358.83 300 359.3 C303.37 359.77 313.67 359.47 316.4 359.5" fill="none" stroke="#6e6e6e" stroke-width="0.9" stroke-linejoin="round" stroke-linecap="round"/>
<path d="M322.6 360.2 C324.33 360.2 331.27 360.2 333 360.2" fill="none" stroke="#6e6e6e" stroke-width="0.9" stroke-linejoin="round" stroke-linecap="round"/>
<path d="M96.5 349.22 V346.7 M105.5 350.69 V349 M169.5 348.96 V346.3 M172.5 348.23 V345.2 M174.5 347.74 V335.6 M209.5 347.73 V344.6 M229.5 353.9 V347.9 M235.5 354.89 V343.1 " fill="none" stroke="#666" stroke-width="0.9"/>
<line x1="45" y1="249.4" x2="316.8" y2="249.4" stroke="#888" stroke-width="1.2"/>
<line x1="322.2" y1="249.4" x2="333.5" y2="249.4" stroke="#888" stroke-width="1.2"/>
<line x1="45" y1="288.3" x2="316.8" y2="288.3" stroke="#888" stroke-width="1.2"/>
<line x1="322.2" y1="288.3" x2="333.5" y2="288.3" stroke="#888" stroke-width="1.2"/>
<line x1="45" y1="327.1" x2="316.8" y2="327.1" stroke="#aaa" stroke-width="1.7"/>
<line x1="322.2" y1="327.1" x2="333.5" y2="327.1" stroke="#aaa" stroke-width="1.7"/>
<line x1="45" y1="210.5" x2="316.8" y2="210.5" stroke="#4a4a4a" stroke-width="1.0"/>
<line x1="322.2" y1="210.5" x2="333.5" y2="210.5" stroke="#4a4a4a" stroke-width="1.0"/>
<line x1="45" y1="366.5" x2="316.8" y2="366.5" stroke="#4a4a4a" stroke-width="1.2"/>
<line x1="322.2" y1="366.5" x2="333.5" y2="366.5" stroke="#4a4a4a" stroke-width="1.2"/>
<line x1="45" y1="210" x2="45" y2="367.1" stroke="#4a4a4a" stroke-width="1.3"/>
<line x1="333.5" y1="210" x2="333.5" y2="367.1" stroke="#555" stroke-width="1.2"/>
<path d="M316.95 213 L317.95 208.2 M320.25 213 L321.25 208.2 " stroke="#555" stroke-width="0.75" fill="none"/>
<path d="M316.95 368.8 L317.95 364 M320.25 368.8 L321.25 364 " stroke="#555" stroke-width="0.75" fill="none"/>
<line x1="40.7" y1="216.4" x2="45" y2="216.4" stroke="#555" stroke-width="0.9"/>
<text x="25.3" y="218" font-size="5.6" fill="#2a2a2a" font-weight="normal" stroke="#2a2a2a" stroke-width="0.22" textLength="15" lengthAdjust="spacingAndGlyphs">15000</text>
<line x1="40.7" y1="227.9" x2="45" y2="227.9" stroke="#555" stroke-width="0.9"/>
<text x="25.3" y="230" font-size="5.6" fill="#2a2a2a" font-weight="normal" stroke="#2a2a2a" stroke-width="0.22" textLength="15" lengthAdjust="spacingAndGlyphs">10000</text>
<line x1="40.7" y1="238.4" x2="45" y2="238.4" stroke="#555" stroke-width="0.9"/>
<text x="28.3" y="240.6" font-size="5.6" fill="#2a2a2a" font-weight="normal" stroke="#2a2a2a" stroke-width="0.22" textLength="12" lengthAdjust="spacingAndGlyphs">5000</text>
<line x1="40.7" y1="249.6" x2="45" y2="249.6" stroke="#555" stroke-width="0.9"/>
<text x="37.3" y="252" font-size="5.6" fill="#2a2a2a" font-weight="normal" stroke="#2a2a2a" stroke-width="0.22" textLength="3" lengthAdjust="spacingAndGlyphs">0</text>
<line x1="40.7" y1="262.7" x2="45" y2="262.7" stroke="#555" stroke-width="0.9"/>
<text x="25.3" y="265" font-size="5.6" fill="#2a2a2a" font-weight="normal" stroke="#2a2a2a" stroke-width="0.22" textLength="15" lengthAdjust="spacingAndGlyphs">40000</text>
<line x1="40.7" y1="275.4" x2="45" y2="275.4" stroke="#555" stroke-width="0.9"/>
<text x="25.3" y="277.4" font-size="5.6" fill="#2a2a2a" font-weight="normal" stroke="#2a2a2a" stroke-width="0.22" textLength="15" lengthAdjust="spacingAndGlyphs">20000</text>
<line x1="40.7" y1="288.7" x2="45" y2="288.7" stroke="#555" stroke-width="0.9"/>
<text x="37.3" y="291" font-size="5.6" fill="#2a2a2a" font-weight="normal" stroke="#2a2a2a" stroke-width="0.22" textLength="3" lengthAdjust="spacingAndGlyphs">0</text>
<line x1="40.7" y1="302.2" x2="45" y2="302.2" stroke="#555" stroke-width="0.9"/>
<text x="25.3" y="305" font-size="5.6" fill="#2a2a2a" font-weight="normal" stroke="#2a2a2a" stroke-width="0.22" textLength="15" lengthAdjust="spacingAndGlyphs">20000</text>
<line x1="40.7" y1="314.9" x2="45" y2="314.9" stroke="#555" stroke-width="0.9"/>
<text x="25.3" y="317" font-size="5.6" fill="#2a2a2a" font-weight="normal" stroke="#2a2a2a" stroke-width="0.22" textLength="15" lengthAdjust="spacingAndGlyphs">10000</text>
<line x1="40.7" y1="326.9" x2="45" y2="326.9" stroke="#555" stroke-width="0.9"/>
<text x="37.3" y="329" font-size="5.6" fill="#2a2a2a" font-weight="normal" stroke="#2a2a2a" stroke-width="0.22" textLength="3" lengthAdjust="spacingAndGlyphs">0</text>
<line x1="40.7" y1="329.4" x2="45" y2="329.4" stroke="#555" stroke-width="0.9"/>
<line x1="40.7" y1="341.5" x2="45" y2="341.5" stroke="#555" stroke-width="0.9"/>
<text x="25.3" y="344" font-size="5.6" fill="#2a2a2a" font-weight="normal" stroke="#2a2a2a" stroke-width="0.22" textLength="15" lengthAdjust="spacingAndGlyphs">20000</text>
<line x1="40.7" y1="353.8" x2="45" y2="353.8" stroke="#555" stroke-width="0.9"/>
<text x="25.3" y="356" font-size="5.6" fill="#2a2a2a" font-weight="normal" stroke="#2a2a2a" stroke-width="0.22" textLength="15" lengthAdjust="spacingAndGlyphs">10000</text>
<line x1="40.7" y1="366" x2="45" y2="366" stroke="#555" stroke-width="0.9"/>
<text x="37.3" y="368" font-size="5.6" fill="#2a2a2a" font-weight="normal" stroke="#2a2a2a" stroke-width="0.22" textLength="3" lengthAdjust="spacingAndGlyphs">0</text>
<line x1="53.9" y1="366.5" x2="53.9" y2="368.7" stroke="#4a4a4a" stroke-width="0.8"/>
<line x1="62.88" y1="366.5" x2="62.88" y2="368.7" stroke="#4a4a4a" stroke-width="0.8"/>
<line x1="71.86" y1="366.5" x2="71.86" y2="368.7" stroke="#4a4a4a" stroke-width="0.8"/>
<line x1="80.84" y1="366.5" x2="80.84" y2="368.7" stroke="#4a4a4a" stroke-width="0.8"/>
<line x1="89.82" y1="366.5" x2="89.82" y2="368.7" stroke="#4a4a4a" stroke-width="0.8"/>
<line x1="98.8" y1="366.5" x2="98.8" y2="369.5" stroke="#4a4a4a" stroke-width="0.8"/>
<line x1="107.78" y1="366.5" x2="107.78" y2="368.7" stroke="#4a4a4a" stroke-width="0.8"/>
<line x1="116.76" y1="366.5" x2="116.76" y2="368.7" stroke="#4a4a4a" stroke-width="0.8"/>
<line x1="125.74" y1="366.5" x2="125.74" y2="368.7" stroke="#4a4a4a" stroke-width="0.8"/>
<line x1="134.72" y1="366.5" x2="134.72" y2="368.7" stroke="#4a4a4a" stroke-width="0.8"/>
<line x1="143.7" y1="366.5" x2="143.7" y2="368.7" stroke="#4a4a4a" stroke-width="0.8"/>
<line x1="152.68" y1="366.5" x2="152.68" y2="368.7" stroke="#4a4a4a" stroke-width="0.8"/>
<line x1="161.66" y1="366.5" x2="161.66" y2="368.7" stroke="#4a4a4a" stroke-width="0.8"/>
<line x1="170.64" y1="366.5" x2="170.64" y2="368.7" stroke="#4a4a4a" stroke-width="0.8"/>
<line x1="179.62" y1="366.5" x2="179.62" y2="368.7" stroke="#4a4a4a" stroke-width="0.8"/>
<line x1="188.6" y1="366.5" x2="188.6" y2="369.5" stroke="#4a4a4a" stroke-width="0.8"/>
<line x1="197.58" y1="366.5" x2="197.58" y2="368.7" stroke="#4a4a4a" stroke-width="0.8"/>
<line x1="206.56" y1="366.5" x2="206.56" y2="368.7" stroke="#4a4a4a" stroke-width="0.8"/>
<line x1="215.54" y1="366.5" x2="215.54" y2="368.7" stroke="#4a4a4a" stroke-width="0.8"/>
<line x1="224.52" y1="366.5" x2="224.52" y2="368.7" stroke="#4a4a4a" stroke-width="0.8"/>
<line x1="233.5" y1="366.5" x2="233.5" y2="368.7" stroke="#4a4a4a" stroke-width="0.8"/>
<line x1="242.48" y1="366.5" x2="242.48" y2="368.7" stroke="#4a4a4a" stroke-width="0.8"/>
<line x1="251.46" y1="366.5" x2="251.46" y2="368.7" stroke="#4a4a4a" stroke-width="0.8"/>
<line x1="260.44" y1="366.5" x2="260.44" y2="368.7" stroke="#4a4a4a" stroke-width="0.8"/>
<line x1="269.42" y1="366.5" x2="269.42" y2="368.7" stroke="#4a4a4a" stroke-width="0.8"/>
<line x1="278.4" y1="366.5" x2="278.4" y2="369.5" stroke="#4a4a4a" stroke-width="0.8"/>
<line x1="287.38" y1="366.5" x2="287.38" y2="368.7" stroke="#4a4a4a" stroke-width="0.8"/>
<line x1="296.36" y1="366.5" x2="296.36" y2="368.7" stroke="#4a4a4a" stroke-width="0.8"/>
<line x1="305.34" y1="366.5" x2="305.34" y2="368.7" stroke="#4a4a4a" stroke-width="0.8"/>
<line x1="325.5" y1="366.5" x2="325.5" y2="368.7" stroke="#4a4a4a" stroke-width="0.8"/>
<text x="95.8" y="376" font-size="6" fill="#2a2a2a" font-weight="normal" stroke="#2a2a2a" stroke-width="0.22" textLength="6" lengthAdjust="spacingAndGlyphs">10</text>
<text x="185.6" y="376" font-size="6" fill="#2a2a2a" font-weight="normal" stroke="#2a2a2a" stroke-width="0.22" textLength="6" lengthAdjust="spacingAndGlyphs">20</text>
<text x="275.4" y="376" font-size="6" fill="#2a2a2a" font-weight="normal" stroke="#2a2a2a" stroke-width="0.22" textLength="6" lengthAdjust="spacingAndGlyphs">30</text>
<text x="143.2" y="385" font-size="6.2" fill="#2a2a2a" font-weight="normal" stroke="#2a2a2a" stroke-width="0.2" textLength="80.9" lengthAdjust="spacingAndGlyphs">Position [°2Theta] (Copper (Cu))</text>
<text x="0.8" y="212" font-size="5.9" fill="#2a2a2a" font-weight="normal" stroke="#2a2a2a" stroke-width="0.2" textLength="17.4" lengthAdjust="spacingAndGlyphs">Counts</text>
<text x="2.6" y="233" font-size="13.3" fill="#111" font-weight="normal" stroke="#111" stroke-width="0.65" textLength="11.4" lengthAdjust="spacingAndGlyphs">b)</text>
<text x="48.1" y="218" font-size="6.3" fill="#ff2020" font-weight="normal" stroke="#ff2020" stroke-width="0.2" textLength="40.5" lengthAdjust="spacingAndGlyphs">Cur-HPMC ASD</text>
<text x="48.2" y="256" font-size="6.3" fill="#2a2aff" font-weight="normal" stroke="#2a2aff" stroke-width="0.2" textLength="19.5" lengthAdjust="spacingAndGlyphs">Cur RM</text>
<text x="49.5" y="295" font-size="6.3" fill="#22dd22" font-weight="normal" stroke="#22dd22" stroke-width="0.2" textLength="37.6" lengthAdjust="spacingAndGlyphs">Cur-HPMC PM</text>
<text x="51.6" y="334" font-size="6.3" fill="#555" font-weight="normal" stroke="#555" stroke-width="0.2" textLength="27" lengthAdjust="spacingAndGlyphs">HPMC RM</text>
<path d="M406 213.8 C406.25 215.17 407 219.27 407.5 222 C408 224.73 408.1 227.78 409 230.2 C409.9 232.62 411.52 234.83 412.9 236.5 C414.28 238.17 415.22 239.62 417.3 240.2 C419.38 240.78 421.12 240.33 425.4 240 C429.68 239.67 437.97 239 443 238.2 C448.03 237.4 452.4 235.88 455.6 235.2 C458.8 234.52 458.85 234.32 462.2 234.1 C465.55 233.88 469.25 233.93 475.7 233.9 C482.15 233.87 492.25 233.8 500.9 233.9 C509.55 234 521.08 234.45 527.6 234.5 C534.12 234.55 536.1 234.52 540 234.2 C543.9 233.88 546.62 233.02 551 232.6 C555.38 232.18 561.75 231.7 566.3 231.7 C570.85 231.7 574.47 232.15 578.3 232.6 C582.13 233.05 585.65 233.82 589.3 234.4 C592.95 234.98 596 235.45 600.2 236.1 C604.4 236.75 610.13 237.7 614.5 238.3 C618.87 238.9 621.67 239.17 626.4 239.7 C631.13 240.23 636.68 241.02 642.9 241.5 C649.12 241.98 660.23 242.42 663.7 242.6" fill="none" stroke="#ff2a2a" stroke-width="1.1" stroke-linejoin="round" stroke-linecap="round"/>
<path d="M670.8 243.9 C673 243.87 681.8 243.73 684 243.7" fill="none" stroke="#ff2a2a" stroke-width="1.1" stroke-linejoin="round" stroke-linecap="round"/>
<path d="M409.5 231.01 V234.9 M415.5 238.43 V236.2 M420.5 240.13 V238.6 M426.5 239.89 V236.2 M430.5 239.48 V238 M433.5 239.16 V236.6 M437.5 238.74 V234.9 M441.5 238.32 V237 M451.5 236.15 V234.1 M456.5 235.12 V233 M464.5 234.06 V225.9 M466.5 234.04 V232 M471.5 233.96 V231.6 M476.5 233.9 V231 M481.5 233.9 V232 M487.5 233.9 V231.5 M494.5 233.9 V232 M501.5 233.9 V232 M507.5 234.04 V229.4 M509.5 234.09 V231 M512.5 234.16 V232 M522.5 234.39 V231.5 M526.5 234.46 V229.4 M532.5 234.38 V231.5 M535.5 234.3 V231.5 M537.5 234.25 V231 M540.5 234.13 V229.8 M552.5 232.52 V228.4 M556.5 232.28 V229.8 M564.5 231.82 V228.1 M567.5 231.78 V228.1 M569.5 231.93 V228.1 M571.5 232.11 V230.9 M576.5 232.44 V230.9 M580.5 232.96 V226.5 M586.5 233.94 V225.9 M590.5 234.65 V233.1 M594.5 235.2 V227.3 M595.5 235.34 V227.3 M596.5 235.51 V227.3 M599.5 235.93 V234.2 M602.5 236.44 V234.2 M606.5 237.04 V235 M614.5 238.28 V231 M619.5 238.9 V237.9 M626.5 239.7 V233 M633.5 240.42 V237.9 M639.5 241.12 V234.6 M644.5 241.6 V239 M662.5 242.53 V237.1 M663.5 242.64 V240.6 M675.5 243.83 V241.2 M678.5 243.78 V241.2 M680.5 243.76 V241 M681.5 243.73 V238.4 M683.5 243.71 V237.9 " fill="none" stroke="#ff4040" stroke-width="0.85"/>
<path d="M406 278 C407.15 278.83 410.08 281.97 412.9 283 C415.72 284.03 419.13 284.08 422.9 284.2 C426.67 284.32 432.35 284.2 435.5 283.7 C438.65 283.2 440.13 281.12 441.8 281.2 C443.47 281.28 444.47 284.73 445.5 284.2 C446.53 283.67 447.25 280.3 448 278 C448.75 275.7 449.33 270.4 450 270.4 C450.67 270.4 451.48 275.7 452 278 C452.52 280.3 452 283.08 453.1 284.2 C457.05 285.32 471.47 285.07 475.7 284.7 C478.5 284.33 477.75 282.78 478.5 282 C479.25 281.22 479.62 280 480.2 280 C480.78 280 481.48 281.17 482 282 C482.52 282.83 482 284.5 483.3 285 C485.6 285.5 493.27 285.67 495.8 285 C498.33 284.33 497.65 282.6 498.5 281 C499.35 279.4 500 274.87 500.9 275.4 C501.8 275.93 502.85 283.07 503.9 284.2 C504.95 285.33 506.23 282.07 507.2 282.2 C508.17 282.33 508.67 285 509.7 285 C510.73 285 512.15 282.2 513.4 282.2 C514.65 282.2 515.8 284.65 517.2 285 C518.6 285.35 520.77 286.47 521.8 284.3 C522.83 282.13 522.97 276.55 523.4 272 C523.83 267.45 524.08 260.6 524.4 257 C524.72 253.4 525 250.4 525.3 250.4 C525.6 250.4 525.88 253.23 526.2 257 C526.52 260.77 526.8 268.63 527.2 273 C527.6 277.37 527.62 282.92 528.6 283.2 C529.58 283.48 531.8 274.6 533.1 274.7 C534.4 274.8 535.35 282.75 536.4 283.8 C537.45 284.85 538.43 280.92 539.4 281 C540.37 281.08 541.23 284.3 542.2 284.3 C543.17 284.3 544.07 280.8 545.2 281 C546.33 281.2 547.12 284.83 549 285.5 C550.88 286.17 554.62 287.02 556.5 285 C558.38 282.98 559.17 273.4 560.3 273.4 C561.43 273.4 560.78 283.4 563.3 285 C565.82 286.6 572.77 285.77 575.4 283 C578.03 280.23 578.18 269.65 579.1 268.4 C580.02 267.15 580.27 274.75 580.9 275.5 C581.53 276.25 581.93 271.43 582.9 272.9 C583.87 274.37 585.23 285.22 586.7 284.3 C588.17 283.38 590.23 267.83 591.7 267.4 C593.17 266.97 594.03 281.32 595.5 281.7 C596.97 282.08 599.03 269.98 600.5 269.7 C601.97 269.42 602.83 278.83 604.3 280 C605.77 281.17 607.83 276.62 609.3 276.7 C610.77 276.78 611.92 280.78 613.1 280.5 C614.28 280.22 615.23 274.37 616.4 275 C617.57 275.63 618.98 283.38 620.1 284.3 C621.22 285.22 622.05 280.72 623.1 280.5 C624.15 280.28 625.05 283.5 626.4 283 C627.75 282.5 629.65 277.2 631.2 277.5 C632.75 277.8 632.9 283.55 635.7 284.8 C638.5 286.05 645.27 285.08 648 285 C650.73 284.92 650.77 284.22 652.1 284.3 C653.43 284.38 654.12 285.22 656 285.5 C657.88 285.78 662.17 285.92 663.4 286" fill="none" stroke="#4040ff" stroke-width="1.05" stroke-linejoin="round" stroke-linecap="round"/>
<path d="M670 286 C672.33 285.97 681.67 285.83 684 285.8" fill="none" stroke="#4040ff" stroke-width="1.05" stroke-linejoin="round" stroke-linecap="round"/>
<path d="M406 290.5 C406.33 291.58 407.15 294.68 408 297 C408.85 299.32 409.55 302.42 411.1 304.4 C412.65 306.38 414.92 307.95 417.3 308.9 C419.68 309.85 422.33 310.17 425.4 310.1 C428.47 310.03 432.97 309.28 435.7 308.5 C438.43 307.72 440.27 305.75 441.8 305.4 C443.33 305.05 443.88 307.08 444.9 306.4 C445.92 305.72 447.17 303.17 447.9 301.3 C448.63 299.43 448.68 294.95 449.3 295.2 C449.92 295.45 450.13 301.88 451.6 302.8 C453.07 303.72 455.65 301.38 458.1 300.7 C460.55 300.02 463.05 299.22 466.3 298.7 C469.55 298.18 475.28 298.28 477.6 297.6 C479.92 296.92 479.42 294.32 480.2 294.6 C480.98 294.88 480.53 298.12 482.3 299.3 C484.07 300.48 488.35 301.02 490.8 301.7 C493.25 302.38 495.63 303.37 497 303.4 C498.37 303.43 498.47 302.58 499 301.9 C499.53 301.22 499.68 298.95 500.2 299.3 C500.72 299.65 501.28 303.08 502.1 304 C502.92 304.92 504.08 304.4 505.1 304.8 C506.12 305.2 507.17 306.23 508.2 306.4 C509.23 306.57 510.28 305.7 511.3 305.8 C512.32 305.9 513.45 306.9 514.3 307 C515.15 307.1 515.55 306.32 516.4 306.4 C517.25 306.48 518.48 307.5 519.4 307.5 C520.32 307.5 521.23 307.98 521.9 306.4 C522.57 304.82 522.95 300.88 523.4 298 C523.85 295.12 524.2 289.1 524.6 289.1 C525 289.1 525.4 295.12 525.8 298 C526.2 300.88 526.35 305 527 306.4 C527.65 307.8 528.98 306.97 529.7 306.4 C530.42 305.83 530.8 303.95 531.3 303 C531.8 302.05 532.22 300.7 532.7 300.7 C533.18 300.7 533.68 302.05 534.2 303 C534.72 303.95 534.85 306.17 535.8 306.4 C536.75 306.63 538.82 304.4 539.9 304.4 C540.98 304.4 541.5 306.62 542.3 306.4 C543.1 306.18 543.8 303.23 544.7 303.1 C545.6 302.97 545.73 305.35 547.7 305.6 C549.67 305.85 554.48 306.02 556.5 304.6 C558.52 303.18 558.83 297.35 559.8 297.1 C560.77 296.85 559.8 301.97 562.3 303.1 C564.9 304.23 572.72 305.15 575.4 303.9 C578.08 302.65 577.57 295.9 578.4 295.6 C579.23 295.3 579.73 301.43 580.4 302.1 C581.07 302.77 581.57 299.02 582.4 299.6 C583.23 300.18 584.4 304.88 585.4 305.6 C586.4 306.32 587.43 305.73 588.4 303.9 C589.37 302.07 590.23 294.18 591.2 294.6 C592.17 295.02 593.15 304.65 594.2 306.4 C595.25 308.15 596.53 306.37 597.5 305.1 C598.47 303.83 599.08 298.38 600 298.8 C600.92 299.22 602.08 306.47 603 307.6 C603.92 308.73 604.57 305.38 605.5 305.6 C606.43 305.82 607.55 308.65 608.6 308.9 C609.65 309.15 610.55 307.73 611.8 307.1 C613.05 306.47 614.97 304.25 616.1 305.1 C617.23 305.95 617.52 311.35 618.6 312.2 C619.68 313.05 621.42 310.2 622.6 310.2 C623.78 310.2 624.35 312.3 625.7 312.2 C627.05 312.1 629.12 309.18 630.7 309.6 C632.28 310.02 631.63 313.68 635.2 314.7 C638.77 315.72 647.4 315.28 652.1 315.7 C656.8 316.12 661.52 316.95 663.4 317.2" fill="none" stroke="#2ee02e" stroke-width="1.1" stroke-linejoin="round" stroke-linecap="round"/>
<path d="M670 319 C672.33 319 681.67 319 684 319" fill="none" stroke="#2ee02e" stroke-width="1.1" stroke-linejoin="round" stroke-linecap="round"/>
<path d="M406 332.8 C406.2 333.58 406.82 336.03 407.2 337.5 C407.58 338.97 407.75 340.02 408.3 341.6 C408.85 343.18 409.73 345.45 410.5 347 C411.27 348.55 411.9 349.87 412.9 350.9 C413.9 351.93 415.25 352.67 416.5 353.2 C417.75 353.73 417.65 354.07 420.4 354.1 C423.15 354.13 427.97 354.1 433 353.4 C438.03 352.7 445.57 351.25 450.6 349.9 C455.63 348.55 459.63 346.57 463.2 345.3 C466.77 344.03 469.5 342.95 472 342.3 C474.5 341.65 476.2 341.45 478.2 341.4 C480.2 341.35 481.9 341.63 484 342 C486.1 342.37 488.3 342.9 490.8 343.6 C493.3 344.3 496.48 345.53 499 346.2 C501.52 346.87 503.85 347.25 505.9 347.6 C507.95 347.95 509.12 348.2 511.3 348.3 C513.48 348.4 516.28 348.37 519 348.2 C521.72 348.03 524.07 347.6 527.6 347.3 C531.13 347 536.13 346.68 540.2 346.4 C544.27 346.12 548.63 345.78 552 345.6 C555.37 345.42 557.73 345.23 560.4 345.3 C563.07 345.37 564.6 345.5 568 346 C571.4 346.5 576.3 347.5 580.8 348.3 C585.3 349.1 590.23 350.08 595 350.8 C599.77 351.52 602.9 351.83 609.4 352.6 C615.9 353.37 625.48 354.58 634 355.4 C642.52 356.22 655.4 357.1 660.5 357.5 C664.6 357.9 663.92 357.75 664.6 357.8" fill="none" stroke="#6e6e6e" stroke-width="0.9" stroke-linejoin="round" stroke-linecap="round"/>
<path d="M670 359.2 C672.33 359.2 681.67 359.2 684 359.2" fill="none" stroke="#6e6e6e" stroke-width="0.9" stroke-linejoin="round" stroke-linecap="round"/>
<line x1="405.5" y1="249.7" x2="664.6" y2="249.7" stroke="#888" stroke-width="1.2"/>
<line x1="670" y1="249.7" x2="684.5" y2="249.7" stroke="#888" stroke-width="1.2"/>
<line x1="405.5" y1="287.8" x2="664.6" y2="287.8" stroke="#888" stroke-width="1.2"/>
<line x1="670" y1="287.8" x2="684.5" y2="287.8" stroke="#888" stroke-width="1.2"/>
<line x1="405.5" y1="326.5" x2="664.6" y2="326.5" stroke="#aaa" stroke-width="1.7"/>
<line x1="670" y1="326.5" x2="684.5" y2="326.5" stroke="#aaa" stroke-width="1.7"/>
<line x1="405.5" y1="211.5" x2="664.6" y2="211.5" stroke="#4a4a4a" stroke-width="1.0"/>
<line x1="670" y1="211.5" x2="684.5" y2="211.5" stroke="#4a4a4a" stroke-width="1.0"/>
<line x1="405.5" y1="365.7" x2="664.6" y2="365.7" stroke="#4a4a4a" stroke-width="1.2"/>
<line x1="670" y1="365.7" x2="684.5" y2="365.7" stroke="#4a4a4a" stroke-width="1.2"/>
<line x1="405.5" y1="211" x2="405.5" y2="366.3" stroke="#4a4a4a" stroke-width="1.3"/>
<line x1="684.5" y1="211" x2="684.5" y2="366.3" stroke="#3a3a3a" stroke-width="1.2"/>
<path d="M665.05 213.8 L666.05 209 M668.35 213.8 L669.35 209 " stroke="#555" stroke-width="0.75" fill="none"/>
<path d="M665.05 368.2 L666.05 363.4 M668.35 368.2 L669.35 363.4 " stroke="#555" stroke-width="0.75" fill="none"/>
<line x1="401.6" y1="213.5" x2="405.5" y2="213.5" stroke="#555" stroke-width="0.9"/>
<line x1="401.6" y1="225.4" x2="405.5" y2="225.4" stroke="#555" stroke-width="0.9"/>
<text x="386.4" y="227.6" font-size="5.6" fill="#2a2a2a" font-weight="normal" stroke="#2a2a2a" stroke-width="0.22" textLength="15" lengthAdjust="spacingAndGlyphs">20000</text>
<line x1="401.6" y1="237.8" x2="405.5" y2="237.8" stroke="#555" stroke-width="0.9"/>
<text x="386.4" y="240" font-size="5.6" fill="#2a2a2a" font-weight="normal" stroke="#2a2a2a" stroke-width="0.22" textLength="15" lengthAdjust="spacingAndGlyphs">10000</text>
<line x1="401.6" y1="249.9" x2="405.5" y2="249.9" stroke="#555" stroke-width="0.9"/>
<text x="398.4" y="252" font-size="5.6" fill="#2a2a2a" font-weight="normal" stroke="#2a2a2a" stroke-width="0.22" textLength="3" lengthAdjust="spacingAndGlyphs">0</text>
<line x1="401.6" y1="262.8" x2="405.5" y2="262.8" stroke="#555" stroke-width="0.9"/>
<text x="386.4" y="265" font-size="5.6" fill="#2a2a2a" font-weight="normal" stroke="#2a2a2a" stroke-width="0.22" textLength="15" lengthAdjust="spacingAndGlyphs">40000</text>
<line x1="401.6" y1="275.4" x2="405.5" y2="275.4" stroke="#555" stroke-width="0.9"/>
<text x="386.4" y="277.7" font-size="5.6" fill="#2a2a2a" font-weight="normal" stroke="#2a2a2a" stroke-width="0.22" textLength="15" lengthAdjust="spacingAndGlyphs">20000</text>
<line x1="401.6" y1="288.6" x2="405.5" y2="288.6" stroke="#555" stroke-width="0.9"/>
<text x="398.4" y="291" font-size="5.6" fill="#2a2a2a" font-weight="normal" stroke="#2a2a2a" stroke-width="0.22" textLength="3" lengthAdjust="spacingAndGlyphs">0</text>
<line x1="401.6" y1="292.1" x2="405.5" y2="292.1" stroke="#555" stroke-width="0.9"/>
<line x1="401.6" y1="303.5" x2="405.5" y2="303.5" stroke="#555" stroke-width="0.9"/>
<text x="386.4" y="306" font-size="5.6" fill="#2a2a2a" font-weight="normal" stroke="#2a2a2a" stroke-width="0.22" textLength="15" lengthAdjust="spacingAndGlyphs">10000</text>
<line x1="401.6" y1="315.4" x2="405.5" y2="315.4" stroke="#555" stroke-width="0.9"/>
<text x="389.4" y="318" font-size="5.6" fill="#2a2a2a" font-weight="normal" stroke="#2a2a2a" stroke-width="0.22" textLength="12" lengthAdjust="spacingAndGlyphs">5000</text>
<line x1="401.6" y1="326.7" x2="405.5" y2="326.7" stroke="#555" stroke-width="0.9"/>
<text x="398.4" y="329" font-size="5.6" fill="#2a2a2a" font-weight="normal" stroke="#2a2a2a" stroke-width="0.22" textLength="3" lengthAdjust="spacingAndGlyphs">0</text>
<line x1="401.6" y1="338.5" x2="405.5" y2="338.5" stroke="#555" stroke-width="0.9"/>
<text x="386.4" y="341" font-size="5.6" fill="#2a2a2a" font-weight="normal" stroke="#2a2a2a" stroke-width="0.22" textLength="15" lengthAdjust="spacingAndGlyphs">20000</text>
<line x1="401.6" y1="351.8" x2="405.5" y2="351.8" stroke="#555" stroke-width="0.9"/>
<text x="386.4" y="354" font-size="5.6" fill="#2a2a2a" font-weight="normal" stroke="#2a2a2a" stroke-width="0.22" textLength="15" lengthAdjust="spacingAndGlyphs">10000</text>
<line x1="401.6" y1="365.2" x2="405.5" y2="365.2" stroke="#555" stroke-width="0.9"/>
<text x="398.4" y="367.6" font-size="5.6" fill="#2a2a2a" font-weight="normal" stroke="#2a2a2a" stroke-width="0.22" textLength="3" lengthAdjust="spacingAndGlyphs">0</text>
<line x1="415.32" y1="365.7" x2="415.32" y2="367.9" stroke="#4a4a4a" stroke-width="0.8"/>
<line x1="424.24" y1="365.7" x2="424.24" y2="367.9" stroke="#4a4a4a" stroke-width="0.8"/>
<line x1="433.15" y1="365.7" x2="433.15" y2="367.9" stroke="#4a4a4a" stroke-width="0.8"/>
<line x1="442.07" y1="365.7" x2="442.07" y2="367.9" stroke="#4a4a4a" stroke-width="0.8"/>
<line x1="450.98" y1="365.7" x2="450.98" y2="367.9" stroke="#4a4a4a" stroke-width="0.8"/>
<line x1="459.9" y1="365.7" x2="459.9" y2="368.7" stroke="#4a4a4a" stroke-width="0.8"/>
<line x1="468.81" y1="365.7" x2="468.81" y2="367.9" stroke="#4a4a4a" stroke-width="0.8"/>
<line x1="477.73" y1="365.7" x2="477.73" y2="367.9" stroke="#4a4a4a" stroke-width="0.8"/>
<line x1="486.64" y1="365.7" x2="486.64" y2="367.9" stroke="#4a4a4a" stroke-width="0.8"/>
<line x1="495.56" y1="365.7" x2="495.56" y2="367.9" stroke="#4a4a4a" stroke-width="0.8"/>
<line x1="504.47" y1="365.7" x2="504.47" y2="367.9" stroke="#4a4a4a" stroke-width="0.8"/>
<line x1="513.39" y1="365.7" x2="513.39" y2="367.9" stroke="#4a4a4a" stroke-width="0.8"/>
<line x1="522.3" y1="365.7" x2="522.3" y2="367.9" stroke="#4a4a4a" stroke-width="0.8"/>
<line x1="531.22" y1="365.7" x2="531.22" y2="367.9" stroke="#4a4a4a" stroke-width="0.8"/>
<line x1="540.13" y1="365.7" x2="540.13" y2="367.9" stroke="#4a4a4a" stroke-width="0.8"/>
<line x1="549.05" y1="365.7" x2="549.05" y2="368.7" stroke="#4a4a4a" stroke-width="0.8"/>
<line x1="557.96" y1="365.7" x2="557.96" y2="367.9" stroke="#4a4a4a" stroke-width="0.8"/>
<line x1="566.88" y1="365.7" x2="566.88" y2="367.9" stroke="#4a4a4a" stroke-width="0.8"/>
<line x1="575.79" y1="365.7" x2="575.79" y2="367.9" stroke="#4a4a4a" stroke-width="0.8"/>
<line x1="584.71" y1="365.7" x2="584.71" y2="367.9" stroke="#4a4a4a" stroke-width="0.8"/>
<line x1="593.62" y1="365.7" x2="593.62" y2="367.9" stroke="#4a4a4a" stroke-width="0.8"/>
<line x1="602.54" y1="365.7" x2="602.54" y2="367.9" stroke="#4a4a4a" stroke-width="0.8"/>
<line x1="611.45" y1="365.7" x2="611.45" y2="367.9" stroke="#4a4a4a" stroke-width="0.8"/>
<line x1="620.37" y1="365.7" x2="620.37" y2="367.9" stroke="#4a4a4a" stroke-width="0.8"/>
<line x1="629.28" y1="365.7" x2="629.28" y2="367.9" stroke="#4a4a4a" stroke-width="0.8"/>
<line x1="638.2" y1="365.7" x2="638.2" y2="368.7" stroke="#4a4a4a" stroke-width="0.8"/>
<line x1="647.12" y1="365.7" x2="647.12" y2="367.9" stroke="#4a4a4a" stroke-width="0.8"/>
<line x1="656.03" y1="365.7" x2="656.03" y2="367.9" stroke="#4a4a4a" stroke-width="0.8"/>
<line x1="676" y1="365.7" x2="676" y2="367.9" stroke="#4a4a4a" stroke-width="0.8"/>
<text x="456.9" y="375" font-size="6" fill="#2a2a2a" font-weight="normal" stroke="#2a2a2a" stroke-width="0.22" textLength="6" lengthAdjust="spacingAndGlyphs">10</text>
<text x="546.05" y="375" font-size="6" fill="#2a2a2a" font-weight="normal" stroke="#2a2a2a" stroke-width="0.22" textLength="6" lengthAdjust="spacingAndGlyphs">20</text>
<text x="635.2" y="375" font-size="6" fill="#2a2a2a" font-weight="normal" stroke="#2a2a2a" stroke-width="0.22" textLength="6" lengthAdjust="spacingAndGlyphs">30</text>
<text x="502.6" y="383" font-size="6.2" fill="#2a2a2a" font-weight="normal" stroke="#2a2a2a" stroke-width="0.2" textLength="82.4" lengthAdjust="spacingAndGlyphs">Position [°2Theta] (Copper (Cu))</text>
<text x="363.9" y="212.6" font-size="5.9" fill="#2a2a2a" font-weight="normal" stroke="#2a2a2a" stroke-width="0.2" textLength="18" lengthAdjust="spacingAndGlyphs">Counts</text>
<text x="361.6" y="233" font-size="13.3" fill="#111" font-weight="normal" stroke="#111" stroke-width="0.65" textLength="10.4" lengthAdjust="spacingAndGlyphs">c)</text>
<text x="408.9" y="221" font-size="6.3" fill="#ff2020" font-weight="normal" stroke="#ff2020" stroke-width="0.2" textLength="49.9" lengthAdjust="spacingAndGlyphs">Cur-PVP VA64 ASD</text>
<text x="408.2" y="260" font-size="6.3" fill="#2a2aff" font-weight="normal" stroke="#2a2aff" stroke-width="0.2" textLength="19.9" lengthAdjust="spacingAndGlyphs">Cur RM</text>
<text x="410" y="294" font-size="6.3" fill="#22dd22" font-weight="normal" stroke="#22dd22" stroke-width="0.2" textLength="47" lengthAdjust="spacingAndGlyphs">Cur-PVP VA64 PM</text>
<text x="408.6" y="335" font-size="6.3" fill="#555" font-weight="normal" stroke="#555" stroke-width="0.2" textLength="37" lengthAdjust="spacingAndGlyphs">PVP VA64 RM</text>
</svg>
</body></html>
